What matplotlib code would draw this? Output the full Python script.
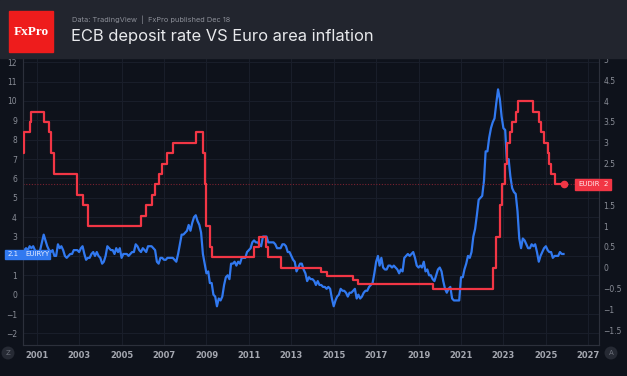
import matplotlib
matplotlib.use("Agg")
import matplotlib.pyplot as plt
from matplotlib.patches import Rectangle
import pandas as pd

# ─── Data ────────────────────────────────────────────────────────────────────
# Euro area HICP inflation, y/y %, monthly from May 2000 to Nov 2025 (left axis)
INFL_START = "2000-05-01"
inflation = [
    1.9, 2.3, 2.4, 2.3, 2.5, 2.4, 2.5, 2.3,                          # 2000 May-Dec
    2.0, 2.0, 2.3, 2.7, 3.1, 2.8, 2.5, 2.3, 2.2, 2.3, 2.0, 2.0,        # 2001
    2.6, 2.4, 2.5, 2.3, 2.0, 1.9, 2.0, 2.1, 2.1, 2.3, 2.3, 2.3,        # 2002
    2.2, 2.4, 2.5, 2.1, 1.8, 1.9, 1.9, 2.1, 2.2, 2.0, 2.2, 2.0,        # 2003
    1.9, 1.6, 1.7, 2.0, 2.5, 2.4, 2.3, 2.3, 2.1, 2.4, 2.2, 2.4,        # 2004
    1.9, 2.1, 2.1, 2.1, 2.0, 2.1, 2.2, 2.2, 2.6, 2.5, 2.3, 2.2,        # 2005
    2.4, 2.3, 2.2, 2.5, 2.5, 2.5, 2.4, 2.3, 1.7, 1.6, 1.9, 1.9,        # 2006
    1.8, 1.8, 1.9, 1.9, 1.9, 1.9, 1.8, 1.7, 2.1, 2.6, 3.1, 3.1,        # 2007
    3.2, 3.3, 3.6, 3.3, 3.7, 4.0, 4.1, 3.8, 3.6, 3.2, 2.1, 1.6,        # 2008
    1.1, 1.2, 0.6, 0.6, 0.0, -0.1, -0.6, -0.2, -0.3, -0.1, 0.5, 0.9,   # 2009
    1.0, 0.8, 1.6, 1.6, 1.7, 1.5, 1.7, 1.6, 1.9, 1.9, 1.9, 2.2,        # 2010
    2.3, 2.4, 2.7, 2.8, 2.7, 2.7, 2.6, 2.5, 3.0, 3.0, 3.0, 2.7,        # 2011
    2.7, 2.7, 2.7, 2.6, 2.4, 2.4, 2.4, 2.6, 2.6, 2.5, 2.2, 2.2,        # 2012
    2.0, 1.8, 1.7, 1.2, 1.4, 1.6, 1.6, 1.3, 1.1, 0.7, 0.9, 0.8,        # 2013
    0.8, 0.7, 0.5, 0.7, 0.5, 0.5, 0.4, 0.4, 0.3, 0.4, 0.3, -0.2,       # 2014
    -0.6, -0.3, -0.1, 0.0, 0.3, 0.2, 0.2, 0.1, -0.1, 0.1, 0.1, 0.2,    # 2015
    0.3, -0.2, 0.0, -0.2, -0.1, 0.1, 0.2, 0.2, 0.4, 0.5, 0.6, 1.1,     # 2016
    1.7, 2.0, 1.5, 1.9, 1.4, 1.3, 1.3, 1.5, 1.5, 1.4, 1.5, 1.4,        # 2017
    1.3, 1.1, 1.3, 1.2, 1.9, 2.0, 2.1, 2.0, 2.1, 2.2, 1.9, 1.5,        # 2018
    1.4, 1.5, 1.4, 1.7, 1.2, 1.3, 1.0, 1.0, 0.8, 0.7, 1.0, 1.3,        # 2019
    1.4, 1.2, 0.7, 0.3, 0.1, 0.3, 0.4, -0.2, -0.3, -0.3, -0.3, -0.3,   # 2020
    0.9, 0.9, 1.3, 1.6, 2.0, 1.9, 2.2, 3.0, 3.4, 4.1, 4.9, 5.0,        # 2021
    5.1, 5.9, 7.4, 7.4, 8.1, 8.6, 8.9, 9.1, 9.9, 10.6, 10.1, 9.2,      # 2022
    8.6, 8.5, 6.9, 7.0, 6.1, 5.5, 5.3, 5.2, 4.3, 2.9, 2.4, 2.9,        # 2023
    2.8, 2.6, 2.4, 2.4, 2.6, 2.5, 2.6, 2.2, 1.7, 2.0, 2.2, 2.4,        # 2024
    2.5, 2.3, 2.2, 2.2, 1.9, 2.0, 2.0, 2.0, 2.2, 2.1, 2.1,             # 2025 Jan-Nov
]

# ECB deposit facility rate, % (right axis): month of each change and new level
rate_dates = [
    "2000-05", "2000-06", "2000-09", "2000-10", "2001-05", "2001-08",
    "2001-09", "2001-11", "2002-12", "2003-03", "2003-06", "2005-12",
    "2006-03", "2006-06", "2006-08", "2006-10", "2006-12", "2007-03",
    "2007-06", "2008-07", "2008-11", "2008-12", "2009-01", "2009-03",
    "2009-04", "2011-04", "2011-07", "2011-11", "2011-12", "2012-07",
    "2014-06", "2014-09", "2015-12", "2016-03", "2019-09", "2022-07",
    "2022-09", "2022-11", "2022-12", "2023-02", "2023-03", "2023-05",
    "2023-06", "2023-08", "2023-09", "2024-06", "2024-09", "2024-10",
    "2024-12", "2025-02", "2025-03", "2025-04", "2025-06", "2025-11",
]
rate_values = [
    2.75, 3.25, 3.50, 3.75, 3.50, 3.25,
    2.75, 2.25, 1.75, 1.50, 1.00, 1.25,
    1.50, 1.75, 2.00, 2.25, 2.50, 2.75,
    3.00, 3.25, 2.75, 2.00, 1.00, 0.50,
    0.25, 0.50, 0.75, 0.50, 0.25, 0.00,
    -0.10, -0.20, -0.30, -0.40, -0.50, 0.00,
    0.75, 1.50, 2.00, 2.50, 3.00, 3.25,
    3.50, 3.75, 4.00, 3.75, 3.50, 3.25,
    3.00, 2.75, 2.50, 2.25, 2.00, 2.00,
]

year_ticks = list(range(2001, 2028, 2))
left_ticks = list(range(-2, 13))
right_ticks = [-1.5, -1, -0.5, 0, 0.5, 1, 1.5, 2, 2.5, 3, 3.5, 4, 4.5, 5]

# ─── Styling ─────────────────────────────────────────────────────────────────
BG = "#0e121b"
HEADER = "#22252e"
GRID = "#1a1f2b"
SPINE = "#2c303b"
TICK = "#8a8e98"
BLUE = "#3179f0"
RED = "#f23645"
W, H = 627, 376

def fx(px):
    return px / W

def fy(py):
    return 1 - py / H

def tick_text(v):
    # the "2" ticks sit under the last-value badges, so they stay blank
    if v == 2:
        return ""
    return f"{v:g}".replace("-", "\u2212")

infl_dates = pd.date_range(INFL_START, periods=len(inflation), freq="MS")
rate_dt = pd.to_datetime(rate_dates)

fig = plt.figure(figsize=(W / 100, H / 100), dpi=100, facecolor=BG)
ax = fig.add_axes([fx(22.5), fy(345), fx(599) - fx(22.5), fy(58) - fy(345)])
ax2 = ax.twinx()

ax.set_facecolor(BG)
ax2.patch.set_visible(False)

ax.plot(infl_dates, inflation, color=BLUE, lw=1.6, zorder=3)
ax2.axhline(rate_values[-1], color="#7a2230", lw=0.8, ls=(0, (1, 1.5)), zorder=1)
ax2.plot(rate_dt, rate_values, color=RED, lw=1.6, drawstyle="steps-post", zorder=3)
ax2.plot(rate_dt[-1:], rate_values[-1:], "o", color=RED, ms=4.5, zorder=4)

ax.set_xlim(pd.Timestamp("2000-05-01"), pd.Timestamp("2027-07-05"))
ax.set_ylim(-2.60, 12.22)
ax2.set_ylim(-1.853, 5.035)

ax.set_xticks([pd.Timestamp(f"{y}-01-01") for y in year_ticks])
ax.set_xticklabels([str(y) for y in year_ticks], fontsize=6, fontweight="bold", color="#a4a7b0")
ax.set_yticks(left_ticks)
ax.set_yticklabels([tick_text(v) for v in left_ticks], fontsize=5.5, color=TICK)
ax2.set_yticks(right_ticks)
ax2.set_yticklabels([tick_text(v) for v in right_ticks], fontsize=5.5, color=TICK)

ax.tick_params(axis="x", length=0, pad=4.5)
ax.tick_params(axis="y", length=0, pad=4)
ax2.tick_params(axis="y", length=0, pad=3)
ax.grid(color=GRID, lw=0.7)

for a in (ax, ax2):
    for s in a.spines.values():
        s.set_color(SPINE)
        s.set_linewidth(0.8)
    a.spines["top"].set_visible(False)

# ─── Header ──────────────────────────────────────────────────────────────────
fig.patches.append(Rectangle((0, fy(58)), 1, 58 / H, transform=fig.transFigure,
                             color=HEADER, zorder=0))
fig.patches.append(Rectangle((fx(9), fy(52)), fx(44), 41 / H, transform=fig.transFigure,
                             color="#ee1c1c", zorder=1))
fig.text(fx(31), fy(32), "FxPro", family="Liberation Serif", fontsize=9.5, fontweight="bold",
         color="white", ha="center", va="center")
fig.text(fx(72), fy(20), "Data: TradingView  |  FxPro published Dec 18", family="Inter",
         fontsize=5.3, color="#8c8f98", ha="left", va="center")
fig.text(fx(71), fy(36), "ECB deposit rate VS Euro area inflation", family="Inter",
         fontsize=11.9, color="#e8e9ec", ha="left", va="center")

# ─── Last-value labels on the price scales ───────────────────────────────────
fig.patches.append(Rectangle((fx(5), fy(259)), fx(45), 9 / H, transform=fig.transFigure,
                             color=BLUE, zorder=5))
fig.text(fx(8), fy(254.5), "2.1", fontsize=5, color="#e6ecff", va="center", zorder=6)
fig.text(fx(25), fy(254.5), "EUIRYY", fontsize=5, color="#e6ecff", va="center", zorder=6)
fig.patches.append(Rectangle((fx(575), fy(190)), fx(36), 11 / H, transform=fig.transFigure,
                             color=RED, zorder=5))
fig.text(fx(578), fy(184.5), "EUDIR", fontsize=5, color="#ffe6e8", va="center", zorder=6)
fig.text(fx(604), fy(184.5), "2", fontsize=5, color="#ffe6e8", va="center", zorder=6)

# ─── Corner buttons ──────────────────────────────────────────────────────────
for px, s in [(8, "Z"), (611, "A")]:
    fig.text(fx(px), fy(353), s, fontsize=5, color="#6d717c", ha="center", va="center",
             bbox=dict(boxstyle="circle,pad=0.5", fc="#262a34", ec="none"))

plt.savefig("out.png", dpi=100, facecolor=BG)
print("Saved: out.png")
